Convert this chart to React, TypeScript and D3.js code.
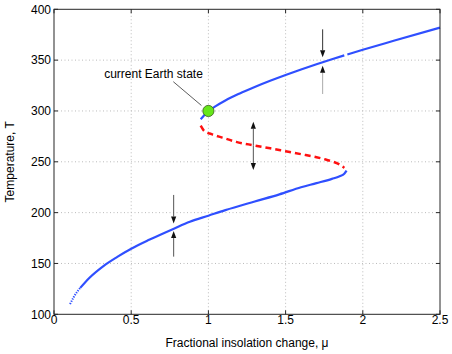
import React from 'react';
import * as d3 from 'd3';

// upper (warm) stable branch, drawn in two pieces with a small gap
const upperMuA = [0.95, 0.97, 1.0, 1.05, 1.11, 1.2, 1.3, 1.4, 1.5, 1.6, 1.7, 1.8, 1.88];
const upperTA = [291.8, 295.3, 299.6, 305.0, 310.3, 317.0, 323.6, 329.7, 335.4, 340.8, 346.0, 350.9, 354.7];
const upperMuB = [1.9, 2.0, 2.2, 2.5];
const upperTB = [355.6, 360.2, 369.0, 382.0];

// unstable middle branch (dashed)
const unstableMu = [0.95, 0.975, 1.02, 1.09, 1.18, 1.29, 1.4, 1.5, 1.6, 1.7, 1.76, 1.81, 1.85, 1.88];
const unstableT = [285.5, 280.0, 277.2, 273.8, 269.6, 266.3, 263.3, 260.4, 257.5, 254.5, 252.2, 249.9, 247.3, 244.0];

// lower (cold) stable branch; sparse sampling at the start looks dotted
const lowerMu = [0.104, 0.13, 0.17, 0.23, 0.32, 0.41, 0.5, 0.62, 0.78, 0.88, 1.0, 1.11, 1.3, 1.46, 1.6, 1.7, 1.8, 1.85, 1.88, 1.895];
const lowerT = [110.0, 117.5, 126.0, 136.0, 147.5, 156.5, 164.5, 173.5, 184.5, 191.0, 197.0, 202.5, 211.0, 218.0, 225.0, 229.0, 233.2, 235.8, 238.3, 241.3];
const dottedUntil = 0.17;

// arrows: [mu, fromT, toT]
const arrowMu = [1.74, 1.74, 1.291, 1.291, 0.775, 0.775];
const arrowFrom = [380.3, 316.7, 266.0, 266.0, 217.4, 156.7];
const arrowTo = [352.8, 344.5, 289.4, 241.9, 189.3, 181.9];
const arrowShade = ['#333', '#aaa', '#555', '#555', '#555', '#555'];

const earthMu = 1.0;
const earthT = 300;

const xTicks = [0, 0.5, 1, 1.5, 2, 2.5];
const yTicks = [100, 150, 200, 250, 300, 350, 400];

const W = 452;
const H = 354;
const margin = { top: 9.3, right: 12, bottom: 39.7, left: 54 };
const font = "'Liberation Sans', Arial, Helvetica, sans-serif";

const App = () => {
  const x = d3.scaleLinear().domain([0, 2.5]).range([margin.left, W - margin.right]);
  const y = d3.scaleLinear().domain([100, 400]).range([H - margin.bottom, margin.top]);

  const line = d3.line<[number, number]>()
    .x(d => x(d[0]))
    .y(d => y(d[1]))
    .curve(d3.curveMonotoneX);

  const pts = (mu: number[], t: number[]) => mu.map((m, i) => [m, t[i]] as [number, number]);

  const lower = pts(lowerMu, lowerT);
  const lowerDots = lower.filter(d => d[0] <= dottedUntil);
  const lowerSolid = lower.filter(d => d[0] >= lowerDots[lowerDots.length - 1][0]);

  const blue = '#2f4fff';
  const red = '#ff1010';
  const [x0, x1] = x.range();
  const [y0, y1] = y.range();

  return (
    <svg width={W} height={H} style={{ position: 'absolute', left: 0, top: 0, background: '#fff' }}
      fontFamily={font}>
      {/* grid */}
      <g stroke="#bbb" strokeWidth={1} strokeDasharray="1 2.5">
        {xTicks.slice(1, -1).map(t => (
          <line key={'gx' + t} x1={x(t)} x2={x(t)} y1={y0} y2={y1} />
        ))}
        {yTicks.slice(1, -1).map(t => (
          <line key={'gy' + t} x1={x0} x2={x1} y1={y(t)} y2={y(t)} />
        ))}
      </g>

      {/* curves */}
      <path d={line(pts(upperMuA, upperTA)) || ''} fill="none" stroke={blue} strokeWidth={2.2} />
      <path d={line(pts(upperMuB, upperTB)) || ''} fill="none" stroke={blue} strokeWidth={2.2} />
      <path d={line(lowerSolid) || ''} fill="none" stroke={blue} strokeWidth={2.2} />
      <path d={line(lowerDots) || ''} fill="none" stroke={blue} strokeWidth={2} strokeDasharray="1.3 1.2" />
      <path d={line(pts(unstableMu, unstableT)) || ''} fill="none" stroke={red} strokeWidth={2.5}
        strokeDasharray="6 4" />

      {/* stability arrows */}
      {arrowMu.map((m, i) => {
        const ax = x(m);
        const ya = y(arrowFrom[i]);
        const yb = y(arrowTo[i]);
        const dir = yb > ya ? 1 : -1;
        const hl = 7;
        const hw = 2.6;
        return (
          <g key={'a' + i}>
            <line x1={ax} x2={ax} y1={ya} y2={yb - dir * hl} stroke={arrowShade[i]} strokeWidth={1} />
            <path d={`M${ax},${yb}L${ax - hw},${yb - dir * hl}L${ax + hw},${yb - dir * hl}Z`} fill="#111" />
          </g>
        );
      })}

      {/* annotation */}
      <line x1={173.3} y1={81.7} x2={x(earthMu) - 7} y2={y(earthT) - 5.5} stroke="#333" strokeWidth={0.8} />
      <circle cx={x(earthMu)} cy={y(earthT)} r={5.6} fill="#66e61a" stroke="#3a5a20" strokeWidth={0.8} />
      <text x={153.5} y={78.3} fontSize={12} textAnchor="middle" fill="#000">current Earth state</text>

      {/* box and ticks */}
      <rect x={x0} y={y1} width={x1 - x0} height={y0 - y1} fill="none" stroke="#262626" strokeWidth={1} />
      <g stroke="#262626" strokeWidth={1}>
        {xTicks.map(t => (
          <g key={'tx' + t}>
            <line x1={x(t)} x2={x(t)} y1={y0} y2={y0 - 4} />
            <line x1={x(t)} x2={x(t)} y1={y1} y2={y1 + 4} />
          </g>
        ))}
        {yTicks.map(t => (
          <g key={'ty' + t}>
            <line x1={x0} x2={x0 + 4} y1={y(t)} y2={y(t)} />
            <line x1={x1} x2={x1 - 4} y1={y(t)} y2={y(t)} />
          </g>
        ))}
      </g>
      <g fontSize={12} fill="#000">
        {xTicks.map(t => (
          <text key={'lx' + t} x={x(t)} y={y0 + 9.8} textAnchor="middle">{d3.format('~g')(t)}</text>
        ))}
        {yTicks.map(t => (
          <text key={'ly' + t} x={x0 - 3} y={y(t) + 4.2} textAnchor="end">{t}</text>
        ))}
      </g>

      <text x={(x0 + x1) / 2} y={346.5} fontSize={12} textAnchor="middle" fill="#000">
        Fractional insolation change, μ
      </text>
      <text transform={`translate(13.5,${(y0 + y1) / 2}) rotate(-90)`} fontSize={12} textAnchor="middle" fill="#000">
        Temperature, T
      </text>
    </svg>
  );
};

export default App;
